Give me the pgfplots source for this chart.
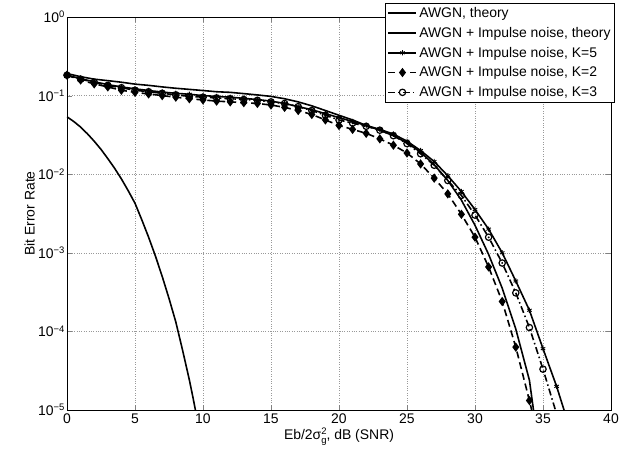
\documentclass[border=0pt]{standalone}
\usepackage{fontspec}
\setmainfont{Liberation Sans}
\usepackage{pgfplots}
\pgfplotsset{compat=1.18}
\newcommand{\sus}[1]{\raisebox{0.62ex}{\fontsize{9.5}{10}\selectfont #1}}

\begin{document}
\begin{tikzpicture}
\path[use as bounding box] (-67bp,-49bp) rectangle (569bp,410bp);
\begin{axis}[
  at={(0,0)}, anchor=south west,
  scale only axis, width=544bp, height=393bp,
  ymode=log, log basis y=10,
  xmin=0, xmax=40, ymin=1e-5, ymax=1,
  xtick={0,5,...,40},
  xticklabels={0,5,10,15,20,25,30,35,40},
  ytick={1e-5,1e-4,1e-3,1e-2,1e-1,1},
  yticklabels={10\sus{−5},10\sus{−4},10\sus{−3},10\sus{−2},10\sus{−1},10\sus{0}},
  font=\fontsize{14}{16}\selectfont,
  tick label style={font=\fontsize{14}{16}\selectfont},
  yticklabel style={xshift=1bp},
  tick align=inside,
  major tick length=5bp, minor tick length=3bp,
  xmajorgrids, ymajorgrids, yminorgrids,
  major grid style={dotted, gray!80, line width=0.6pt},
  minor grid style={dotted, gray!80, line width=0.6pt},
  axis line style={line width=0.8pt},
  xlabel={Eb/2σ\rlap{\sus{2}}\raisebox{-0.5ex}{\fontsize{9.5}{10}\selectfont g}, dB (SNR)},
  ylabel={Bit Error Rate},
  every axis x label/.style={at={(axis description cs:0.5,-0.068)}, anchor=center},
  every axis y label/.style={at={(axis description cs:-0.0685,0.5)}, anchor=center, rotate=90},
  legend style={at={(1,1)}, anchor=north east, xshift=4bp, yshift=14bp,
    draw=black, line width=0.8pt, fill=white, inner sep=2bp,
    font=\fontsize{14}{16}\selectfont, row sep=4.2bp,
    cells={anchor=west}},
  legend cell align=left,
  legend image code/.code={%
    \draw[mark repeat=2,mark phase=2] plot coordinates {(0bp,0bp) (14bp,0bp) (28bp,0bp)};},
  every axis plot/.append style={line width=1.6pt, black},
]
% AWGN, theory
\addplot[no marks] coordinates {
 (0,0.0537) (0.5,0.0468) (1,0.0398) (1.5,0.0327) (2,0.0263) (2.5,0.0207)
 (3,0.0158) (3.5,0.0119) (4,8.71e-3) (4.5,6.17e-3) (5,4.27e-3) (5.5,2.63e-3)
 (6,1.58e-3) (6.5,9.12e-4) (7,5.01e-4) (7.5,2.63e-4) (8,1.32e-4) (8.5,5.75e-5)
 (9,2.40e-5) (9.25,1.48e-5) (9.5,8.9e-6) (10,3.16e-6)
};
\addlegendentry{AWGN, theory}
% AWGN + Impulse noise, theory
\addplot[no marks] coordinates {
 (0,0.191) (1,0.174) (2,0.162) (3,0.155) (4,0.148) (5,0.140) (6,0.135)
 (7,0.129) (8,0.124) (9,0.120) (10,0.116) (11,0.112) (12,0.110) (13,0.106)
 (14,0.102) (15,0.0977) (16,0.0912) (17,0.0832) (18,0.0741) (19,0.0646)
 (20,0.0562) (21,0.0490) (22,0.0417) (23,0.0363) (24,0.0309) (25,0.0251)
 (26,0.0191) (27,0.0132) (28,8.32e-3) (29,4.68e-3) (30,2.24e-3) (31,9.55e-4)
 (32,3.55e-4) (33,1.07e-4) (34,2.40e-5) (34.5,5.62e-6)
};
\addlegendentry{AWGN + Impulse noise, theory}
% K=5
\addplot[solid, mark=asterisk, mark size=2.6pt, mark options={line width=0.9pt}] coordinates {
 (0,0.182) (1,0.164) (2,0.150) (3,0.138) (4,0.129) (5,0.122) (6,0.116)
 (7,0.111) (8,0.107) (9,0.104) (10,0.100) (11,0.0977) (12,0.0955) (13,0.0923)
 (14,0.0891) (15,0.0851) (16,0.0794) (17,0.0724) (18,0.0661) (19,0.0589)
 (20,0.0525) (21,0.0468) (22,0.0417) (23,0.0372) (24,0.0324) (25,0.0263)
 (26,0.0200) (27,0.0145) (28,9.55e-3) (29,6.03e-3) (30,3.55e-3) (31,2.00e-3)
 (32,1.00e-3) (33,4.37e-4) (34,1.86e-4) (35,6.03e-5) (36,2.00e-5) (37,5.62e-6)
};
\addlegendentry{AWGN + Impulse noise, K=5}
% K=2
\addplot[dash pattern=on 7bp off 4bp, mark=diamond*, mark size=3.4pt, mark options={solid}] coordinates {
 (0,0.182) (1,0.158) (2,0.141) (3,0.129) (4,0.117) (5,0.110) (6,0.105)
 (7,0.100) (8,0.0955) (9,0.0912) (10,0.0881) (11,0.0851) (12,0.0832) (13,0.0813)
 (14,0.0794) (15,0.0759) (16,0.0708) (17,0.0646) (18,0.0575) (19,0.0490)
 (20,0.0417) (21,0.0372) (22,0.0331) (23,0.0282) (24,0.0234) (25,0.0186)
 (26,0.0135) (27,8.91e-3) (28,5.62e-3) (29,3.09e-3) (30,1.58e-3) (31,6.61e-4)
 (32,2.40e-4) (33,6.31e-5) (34,1.32e-5) (35,2.5e-6)
};
\addlegendentry{AWGN + Impulse noise, K=2}
% K=3
\addplot[dash pattern=on 7bp off 3bp on 1.5bp off 3bp, mark=o, mark size=3.2pt, mark options={solid, line width=1.2pt}] coordinates {
 (0,0.182) (1,0.162) (2,0.148) (3,0.135) (4,0.126) (5,0.117) (6,0.112)
 (7,0.107) (8,0.102) (9,0.0977) (10,0.0955) (11,0.0933) (12,0.0912) (13,0.0891)
 (14,0.0871) (15,0.0832) (16,0.0794) (17,0.0724) (18,0.0646) (19,0.0562)
 (20,0.0490) (21,0.0447) (22,0.0407) (23,0.0363) (24,0.0309) (25,0.0245)
 (26,0.0182) (27,0.0130) (28,8.32e-3) (29,5.37e-3) (30,3.02e-3) (31,1.58e-3)
 (32,7.41e-4) (33,3.09e-4) (34,1.12e-4) (35,3.31e-5) (36,8.91e-6) (37,2.0e-6)
};
\addlegendentry{AWGN + Impulse noise, K=3}
\end{axis}
\end{tikzpicture}
\end{document}
